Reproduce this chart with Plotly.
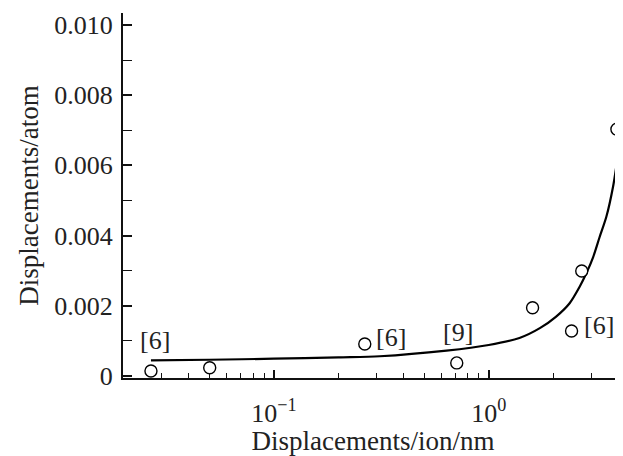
import plotly.graph_objects as go
import math

# Measured data points (open circles)
pts_x = [0.0268, 0.0503, 0.265, 0.710, 1.60, 2.43, 2.71, 3.95]
pts_y = [0.00014, 0.00023, 0.00091, 0.00037, 0.00194, 0.00128, 0.00299, 0.00703]

# Fitted curve
curve_x = [0.0268, 0.05, 0.1, 0.2, 0.311, 0.636, 1.0, 1.39, 1.73, 2.06, 2.38, 2.65, 2.85,
           3.06, 3.28, 3.53, 3.79, 3.99, 4.14]
curve_y = [0.00044, 0.00046, 0.00049, 0.00053, 0.00056, 0.00072, 0.00088, 0.00108, 0.00136,
           0.00169, 0.00207, 0.00254, 0.00293, 0.00338, 0.00395, 0.00454, 0.00539, 0.00625, 0.00682]

# Reference labels attached to points (index into pts)
ref_idx = [0, 2, 3, 5]
ref_text = ["[6]", "[6]", "[9]", "[6]"]

y_ticks = [0, 0.002, 0.004, 0.006, 0.008, 0.010]
y_ticktext = ["0", "0.002", "0.004", "0.006", "0.008", "0.010"]
x_ticks = [0.1, 1]
x_ticktext = ["10<sup>−1</sup>", "10<sup>0</sup>"]
x_minor = [0.03, 0.04, 0.05, 0.06, 0.07, 0.08, 0.09, 0.2, 0.3, 0.4, 0.5, 0.6, 0.7, 0.8, 0.9, 2, 3, 4]

FONT = "Liberation Serif"
TXT = "#222"

fig = go.Figure()
fig.add_trace(go.Scatter(x=curve_x, y=curve_y, mode="lines",
                         line=dict(color="black", width=2.2, shape="spline", smoothing=0.8),
                         hoverinfo="skip", showlegend=False))
fig.add_trace(go.Scatter(x=pts_x, y=pts_y, mode="markers",
                         marker=dict(symbol="circle", size=12, color="white",
                                     line=dict(color="black", width=1.4)),
                         cliponaxis=False, showlegend=False))

shifts = [(4, 30), (26, 6), (1, 30), (27, 5)]
for i, t, (dx, dy) in zip(ref_idx, ref_text, shifts):
    fig.add_annotation(x=math.log10(pts_x[i]), y=pts_y[i], text=t, showarrow=False,
                       xshift=dx, yshift=dy, font=dict(family=FONT, size=26, color=TXT))

# page body adds an 8px margin, so the figure is sized to fill the rest of the window
fig.update_layout(
    width=615, height=448,
    margin=dict(l=115, r=0, t=5, b=78),
    paper_bgcolor="white", plot_bgcolor="white",
    font=dict(family=FONT, color=TXT, size=26),
    xaxis=dict(type="log", range=[-1.702, 0.625], showgrid=False, zeroline=False,
               automargin=False,
               showline=True, linecolor="#111", linewidth=2,
               ticks="inside", ticklen=8, tickwidth=1.5, tickcolor="#111",
               tickvals=x_ticks, ticktext=x_ticktext,
               tickfont=dict(family=FONT, size=26, color=TXT),
               ticklabelstandoff=11,
               minor=dict(ticks="inside", ticklen=5, tickwidth=1.3, tickcolor="#111",
                          tickvals=x_minor, showgrid=False),
               title=dict(text="Displacements/ion/nm",
                          font=dict(family=FONT, size=27, color=TXT), standoff=2)),
    yaxis=dict(range=[-0.00006, 0.01034], showgrid=False, zeroline=False,
               automargin=False,
               showline=True, linecolor="#111", linewidth=2,
               ticks="inside", ticklen=9, tickwidth=1.5, tickcolor="#111",
               tickvals=y_ticks, ticktext=y_ticktext,
               tickfont=dict(family=FONT, size=26, color=TXT),
               ticklabelstandoff=3,
               minor=dict(ticks="inside", ticklen=9, tickwidth=1.3, tickcolor="#111",
                          dtick=0.001, tick0=0, showgrid=False),
               title=dict(text="Displacements/atom",
                          font=dict(family=FONT, size=27, color=TXT), standoff=8)),
)

fig.write_html("out.html")
